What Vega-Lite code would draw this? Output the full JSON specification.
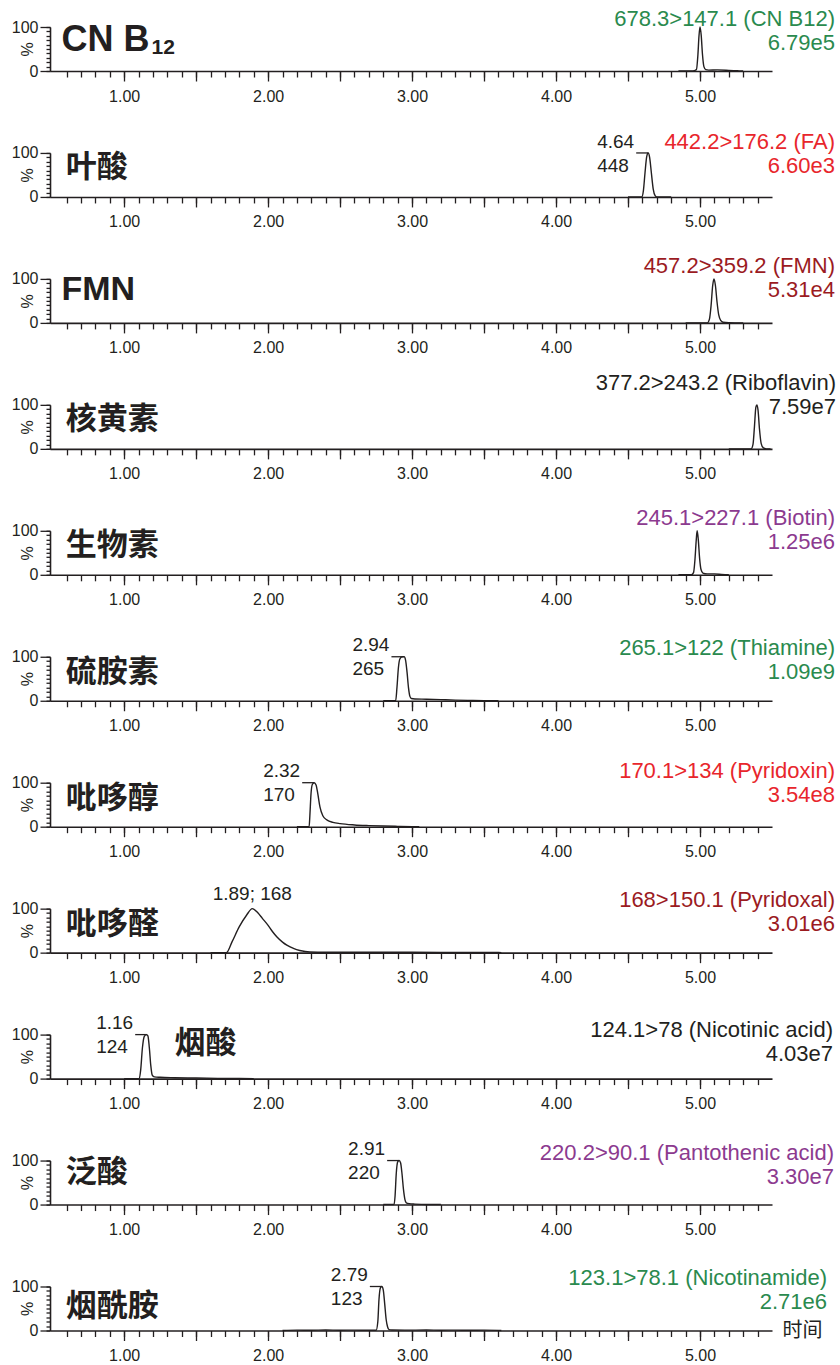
{
  "$schema": "https://vega.github.io/schema/vega-lite/v6.json",
  "background": "white",
  "padding": {"left": 11, "top": 8, "right": 2, "bottom": 4},
  "bounds": "flush",
  "spacing": 81.95,
  "config": {
    "view": {"stroke": null},
    "axis": {
      "domainColor": "#231f20", "domainWidth": 1.6,
      "tickColor": "#231f20", "tickWidth": 1.3,
      "labelFont": "Liberation Sans", "labelFontSize": 16, "labelColor": "#231f20",
      "titleFont": "Liberation Sans", "titleFontWeight": "normal", "titleColor": "#231f20",
      "grid": false
    },
    "text": {"font": "Liberation Sans", "color": "#231f20"}
  },
  "datasets": {
    "trace": [
      {"p":1,"t":4.85,"i":0},{"p":1,"t":4.95,"i":0},{"p":1,"t":4.975,"i":3},{"p":1,"t":4.985,"i":35},{"p":1,"t":4.993,"i":80},{"p":1,"t":5.0,"i":100},{"p":1,"t":5.008,"i":82},{"p":1,"t":5.017,"i":38},{"p":1,"t":5.027,"i":10},{"p":1,"t":5.04,"i":3},{"p":1,"t":5.06,"i":2},{"p":1,"t":5.12,"i":2.5},{"p":1,"t":5.2,"i":1.5},{"p":1,"t":5.26,"i":0.5},{"p":1,"t":5.3,"i":0},
      {"p":2,"t":4.5,"i":0},{"p":2,"t":4.595,"i":0},{"p":2,"t":4.607,"i":15},{"p":2,"t":4.618,"i":55},{"p":2,"t":4.63,"i":92},{"p":2,"t":4.64,"i":100},{"p":2,"t":4.65,"i":90},{"p":2,"t":4.662,"i":55},{"p":2,"t":4.675,"i":18},{"p":2,"t":4.688,"i":3},{"p":2,"t":4.7,"i":0},{"p":2,"t":4.8,"i":0},
      {"p":3,"t":4.9,"i":0},{"p":3,"t":5.05,"i":0},{"p":3,"t":5.065,"i":8},{"p":3,"t":5.077,"i":40},{"p":3,"t":5.088,"i":85},{"p":3,"t":5.097,"i":100},{"p":3,"t":5.107,"i":85},{"p":3,"t":5.118,"i":48},{"p":3,"t":5.13,"i":18},{"p":3,"t":5.145,"i":5},{"p":3,"t":5.16,"i":1.5},{"p":3,"t":5.2,"i":0.5},{"p":3,"t":5.3,"i":0},
      {"p":4,"t":5.2,"i":0},{"p":4,"t":5.355,"i":0},{"p":4,"t":5.368,"i":10},{"p":4,"t":5.378,"i":50},{"p":4,"t":5.388,"i":95},{"p":4,"t":5.395,"i":100},{"p":4,"t":5.403,"i":88},{"p":4,"t":5.413,"i":45},{"p":4,"t":5.425,"i":12},{"p":4,"t":5.44,"i":2},{"p":4,"t":5.46,"i":0},{"p":4,"t":5.49,"i":0},
      {"p":5,"t":4.85,"i":0},{"p":5,"t":4.94,"i":0},{"p":5,"t":4.955,"i":5},{"p":5,"t":4.965,"i":35},{"p":5,"t":4.974,"i":80},{"p":5,"t":4.98,"i":100},{"p":5,"t":4.988,"i":80},{"p":5,"t":4.997,"i":38},{"p":5,"t":5.007,"i":12},{"p":5,"t":5.02,"i":4},{"p":5,"t":5.05,"i":2},{"p":5,"t":5.1,"i":2},{"p":5,"t":5.15,"i":1},{"p":5,"t":5.2,"i":0},
      {"p":6,"t":2.8,"i":0},{"p":6,"t":2.886,"i":0},{"p":6,"t":2.895,"i":30},{"p":6,"t":2.905,"i":75},{"p":6,"t":2.915,"i":95},{"p":6,"t":2.93,"i":100},{"p":6,"t":2.945,"i":100},{"p":6,"t":2.955,"i":92},{"p":6,"t":2.965,"i":65},{"p":6,"t":2.975,"i":30},{"p":6,"t":2.985,"i":10},{"p":6,"t":2.995,"i":5},{"p":6,"t":3.02,"i":4},{"p":6,"t":3.1,"i":3.5},{"p":6,"t":3.2,"i":2.5},{"p":6,"t":3.3,"i":1.5},{"p":6,"t":3.4,"i":0.8},{"p":6,"t":3.5,"i":0.2},{"p":6,"t":3.6,"i":0},
      {"p":7,"t":2.2,"i":0},{"p":7,"t":2.285,"i":0},{"p":7,"t":2.29,"i":25},{"p":7,"t":2.298,"i":75},{"p":7,"t":2.307,"i":96},{"p":7,"t":2.32,"i":100},{"p":7,"t":2.333,"i":95},{"p":7,"t":2.345,"i":75},{"p":7,"t":2.36,"i":45},{"p":7,"t":2.38,"i":25},{"p":7,"t":2.41,"i":15},{"p":7,"t":2.45,"i":10},{"p":7,"t":2.5,"i":7},{"p":7,"t":2.6,"i":4},{"p":7,"t":2.7,"i":2.5},{"p":7,"t":2.8,"i":1.5},{"p":7,"t":2.9,"i":0.8},{"p":7,"t":3.0,"i":0.2},{"p":7,"t":3.05,"i":0},
      {"p":8,"t":1.6,"i":0},{"p":8,"t":1.71,"i":0},{"p":8,"t":1.75,"i":25},{"p":8,"t":1.8,"i":59},{"p":8,"t":1.85,"i":85},{"p":8,"t":1.89,"i":100},{"p":8,"t":1.93,"i":90},{"p":8,"t":1.96,"i":78},{"p":8,"t":2.0,"i":62},{"p":8,"t":2.03,"i":48},{"p":8,"t":2.06,"i":36},{"p":8,"t":2.1,"i":24},{"p":8,"t":2.13,"i":17},{"p":8,"t":2.18,"i":9},{"p":8,"t":2.22,"i":5},{"p":8,"t":2.29,"i":1.5},{"p":8,"t":2.4,"i":1},{"p":8,"t":2.6,"i":1},{"p":8,"t":2.8,"i":0.8},{"p":8,"t":3.0,"i":0.8},{"p":8,"t":3.2,"i":0.6},{"p":8,"t":3.4,"i":0.5},{"p":8,"t":3.6,"i":0.3},{"p":8,"t":3.62,"i":0},
      {"p":9,"t":1.0,"i":0},{"p":9,"t":1.105,"i":0},{"p":9,"t":1.115,"i":20},{"p":9,"t":1.127,"i":70},{"p":9,"t":1.14,"i":96},{"p":9,"t":1.155,"i":100},{"p":9,"t":1.165,"i":97},{"p":9,"t":1.175,"i":70},{"p":9,"t":1.185,"i":30},{"p":9,"t":1.195,"i":8},{"p":9,"t":1.21,"i":4},{"p":9,"t":1.25,"i":3},{"p":9,"t":1.35,"i":2},{"p":9,"t":1.5,"i":1.2},{"p":9,"t":1.65,"i":0.5},{"p":9,"t":1.8,"i":0.2},{"p":9,"t":1.9,"i":0},
      {"p":10,"t":2.8,"i":0},{"p":10,"t":2.875,"i":0},{"p":10,"t":2.882,"i":20},{"p":10,"t":2.89,"i":70},{"p":10,"t":2.9,"i":97},{"p":10,"t":2.91,"i":100},{"p":10,"t":2.92,"i":95},{"p":10,"t":2.93,"i":70},{"p":10,"t":2.94,"i":35},{"p":10,"t":2.95,"i":12},{"p":10,"t":2.96,"i":4},{"p":10,"t":2.98,"i":2},{"p":10,"t":3.02,"i":1},{"p":10,"t":3.1,"i":0},{"p":10,"t":3.2,"i":0},
      {"p":11,"t":2.1,"i":0},{"p":11,"t":2.2,"i":0.8},{"p":11,"t":2.3,"i":0.5},{"p":11,"t":2.4,"i":1},{"p":11,"t":2.5,"i":0.6},{"p":11,"t":2.6,"i":0.9},{"p":11,"t":2.7,"i":0.5},{"p":11,"t":2.75,"i":0.5},{"p":11,"t":2.762,"i":20},{"p":11,"t":2.77,"i":70},{"p":11,"t":2.78,"i":97},{"p":11,"t":2.79,"i":100},{"p":11,"t":2.8,"i":92},{"p":11,"t":2.81,"i":60},{"p":11,"t":2.82,"i":25},{"p":11,"t":2.83,"i":8},{"p":11,"t":2.84,"i":2},{"p":11,"t":2.86,"i":1},{"p":11,"t":2.95,"i":0.8},{"p":11,"t":3.1,"i":1},{"p":11,"t":3.2,"i":0.6},{"p":11,"t":3.3,"i":0.9},{"p":11,"t":3.4,"i":0.5},{"p":11,"t":3.5,"i":0.8},{"p":11,"t":3.6,"i":0.3},{"p":11,"t":3.62,"i":0}
    ],
    "info": [
      {"p":1,"name":"CN B","sub":"12","ann":"678.3>147.1 (CN B12)\n6.79e5"},
      {"p":2,"name":"叶酸","ann":"442.2>176.2 (FA)\n6.60e3","rt":4.64,"lab":"4.64\n448"},
      {"p":3,"name":"FMN","ann":"457.2>359.2 (FMN)\n5.31e4"},
      {"p":4,"name":"核黄素","ann":"377.2>243.2 (Riboflavin)\n7.59e7"},
      {"p":5,"name":"生物素","ann":"245.1>227.1 (Biotin)\n1.25e6"},
      {"p":6,"name":"硫胺素","ann":"265.1>122 (Thiamine)\n1.09e9","rt":2.94,"lab":"2.94\n265"},
      {"p":7,"name":"吡哆醇","ann":"170.1>134 (Pyridoxin)\n3.54e8","rt":2.32,"lab":"2.32\n170"},
      {"p":8,"name":"吡哆醛","ann":"168>150.1 (Pyridoxal)\n3.01e6","rt":1.89,"lab":"1.89; 168"},
      {"p":9,"name":"烟酸","ann":"124.1>78 (Nicotinic acid)\n4.03e7","rt":1.16,"lab":"1.16\n124"},
      {"p":10,"name":"泛酸","ann":"220.2>90.1 (Pantothenic acid)\n3.30e7","rt":2.91,"lab":"2.91\n220"},
      {"p":11,"name":"烟酰胺","ann":"123.1>78.1 (Nicotinamide)\n2.71e6","rt":2.79,"lab":"2.79\n123"}
    ]
  },
  "vconcat": [
    {
      "width": 722, "height": 44,
      "resolve": {"axis": {"x": "independent", "y": "independent"}},
      "layer": [
        {"data": {"name": "trace"}, "transform": [{"filter": "datum.p === 1"}],
         "mark": {"type": "line", "color": "#231f20", "strokeWidth": 1.4, "interpolate": "monotone"},
         "encoding": {
           "x": {"field": "t", "type": "quantitative", "scale": {"domain": [0.485, 5.5], "zero": false},
                 "axis": {"orient": "bottom", "values": [0.6,0.7,0.8,0.9,1,1.1,1.2,1.3,1.4,1.5,1.6,1.7,1.8,1.9,2,2.1,2.2,2.3,2.4,2.5,2.6,2.7,2.8,2.9,3,3.1,3.2,3.3,3.4,3.5,3.6,3.7,3.8,3.9,4,4.1,4.2,4.3,4.4,4.5,4.6,4.7,4.8,4.9,5,5.1,5.2,5.3,5.4], "labels": false, "tickSize": 6, "title": null}},
           "y": {"field": "i", "type": "quantitative", "scale": {"domain": [0, 100], "zero": false},
                 "axis": {"orient": "left", "values": [0,10,20,30,40,50,60,70,80,90,100], "labels": false, "tickSize": 4,
                          "title": "%", "titleX": -23, "titleY": 22, "titleAngle": 270, "titleAlign": "center", "titleBaseline": "middle", "titleFontSize": 16}}
         }},
        {"data": {"name": "info"}, "transform": [{"filter": "datum.p === 1"}],
         "mark": {"type": "text", "align": "right", "baseline": "middle", "lineBreak": "\n", "lineHeight": 24, "fontSize": 22, "dx": 63, "color": "#2a8a4e"},
         "encoding": {
           "x": {"datum": 5.5, "type": "quantitative", "scale": {"domain": [0.485, 5.5], "zero": false},
                 "axis": {"orient": "bottom", "values": [1,1.5,2,2.5,3,3.5,4,4.5,5], "domain": false, "tickSize": 10, "labelExpr": "datum.value % 1 === 0 ? format(datum.value, '.2f') : ''", "labelPadding": 7, "labelOverlap": false, "labelFlush": false, "title": null}},
           "y": {"datum": 118, "type": "quantitative", "scale": {"domain": [0, 100], "zero": false},
                 "axis": {"orient": "left", "values": [0,100], "domain": false, "tickSize": 10, "labelPadding": 2, "labelOverlap": false, "labelFlush": false, "title": null}},
           "text": {"field": "ann", "type": "nominal"}}},
        {"data": {"name": "info"}, "transform": [{"filter": "datum.p === 1"}],
         "mark": {"type": "text", "align": "left", "baseline": "alphabetic", "fontSize": 36, "fontWeight": "bold", "font": "Liberation Sans"},
         "encoding": {"x": {"datum": 0.565, "type": "quantitative", "scale": {"domain": [0.485, 5.5], "zero": false}, "axis": null}, "y": {"datum": 46, "type": "quantitative", "axis": null}, "text": {"field": "name", "type": "nominal"}}},
        {"data": {"name": "info"}, "transform": [{"filter": "datum.p === 1"}],
         "mark": {"type": "text", "align": "left", "baseline": "alphabetic", "fontSize": 21, "fontWeight": "bold", "font": "Liberation Sans"},
         "encoding": {"x": {"datum": 1.19, "type": "quantitative", "scale": {"domain": [0.485, 5.5], "zero": false}, "axis": null}, "y": {"datum": 39, "type": "quantitative", "axis": null}, "text": {"field": "sub", "type": "nominal"}}}
      ]
    },
    {
      "width": 722, "height": 44,
      "resolve": {"axis": {"x": "independent", "y": "independent"}},
      "layer": [
        {"data": {"name": "trace"}, "transform": [{"filter": "datum.p === 2"}],
         "mark": {"type": "line", "color": "#231f20", "strokeWidth": 1.4, "interpolate": "monotone"},
         "encoding": {
           "x": {"field": "t", "type": "quantitative", "scale": {"domain": [0.485, 5.5], "zero": false},
                 "axis": {"orient": "bottom", "values": [0.6,0.7,0.8,0.9,1,1.1,1.2,1.3,1.4,1.5,1.6,1.7,1.8,1.9,2,2.1,2.2,2.3,2.4,2.5,2.6,2.7,2.8,2.9,3,3.1,3.2,3.3,3.4,3.5,3.6,3.7,3.8,3.9,4,4.1,4.2,4.3,4.4,4.5,4.6,4.7,4.8,4.9,5,5.1,5.2,5.3,5.4], "labels": false, "tickSize": 6, "title": null}},
           "y": {"field": "i", "type": "quantitative", "scale": {"domain": [0, 100], "zero": false},
                 "axis": {"orient": "left", "values": [0,10,20,30,40,50,60,70,80,90,100], "labels": false, "tickSize": 4,
                          "title": "%", "titleX": -23, "titleY": 22, "titleAngle": 270, "titleAlign": "center", "titleBaseline": "middle", "titleFontSize": 16}}
         }},
        {"data": {"name": "info"}, "transform": [{"filter": "datum.p === 2"}],
         "mark": {"type": "text", "align": "right", "baseline": "middle", "lineBreak": "\n", "lineHeight": 24, "fontSize": 22, "dx": 63, "color": "#e8262c"},
         "encoding": {
           "x": {"datum": 5.5, "type": "quantitative", "scale": {"domain": [0.485, 5.5], "zero": false},
                 "axis": {"orient": "bottom", "values": [1,1.5,2,2.5,3,3.5,4,4.5,5], "domain": false, "tickSize": 10, "labelExpr": "datum.value % 1 === 0 ? format(datum.value, '.2f') : ''", "labelPadding": 7, "labelOverlap": false, "labelFlush": false, "title": null}},
           "y": {"datum": 125, "type": "quantitative", "scale": {"domain": [0, 100], "zero": false},
                 "axis": {"orient": "left", "values": [0,100], "domain": false, "tickSize": 10, "labelPadding": 2, "labelOverlap": false, "labelFlush": false, "title": null}},
           "text": {"field": "ann", "type": "nominal"}}},
        {"data": {"name": "info"}, "transform": [{"filter": "datum.p === 2"}],
         "mark": {"type": "text", "align": "left", "baseline": "middle", "fontSize": 31, "fontWeight": "bold", "font": "Noto Sans CJK SC"},
         "encoding": {"x": {"datum": 0.595, "type": "quantitative", "scale": {"domain": [0.485, 5.5], "zero": false}, "axis": null}, "y": {"datum": 66, "type": "quantitative", "axis": null}, "text": {"field": "name", "type": "nominal"}}},
        {"data": {"name": "info"}, "transform": [{"filter": "datum.p === 2"}],
         "mark": {"type": "rule", "color": "#231f20", "strokeWidth": 1.3, "x2Offset": -12},
         "encoding": {"x": {"field": "rt", "type": "quantitative", "scale": {"domain": [0.485, 5.5], "zero": false}, "axis": null}, "x2": {"field": "rt"}, "y": {"datum": 100, "type": "quantitative", "axis": null}}},
        {"data": {"name": "info"}, "transform": [{"filter": "datum.p === 2"}],
         "mark": {"type": "text", "align": "left", "baseline": "middle", "lineBreak": "\n", "lineHeight": 24, "fontSize": 19, "dx": -51},
         "encoding": {"x": {"field": "rt", "type": "quantitative", "scale": {"domain": [0.485, 5.5], "zero": false}, "axis": null}, "y": {"datum": 126, "type": "quantitative", "axis": null}, "text": {"field": "lab", "type": "nominal"}}}
      ]
    },
    {
      "width": 722, "height": 44,
      "resolve": {"axis": {"x": "independent", "y": "independent"}},
      "layer": [
        {"data": {"name": "trace"}, "transform": [{"filter": "datum.p === 3"}],
         "mark": {"type": "line", "color": "#231f20", "strokeWidth": 1.4, "interpolate": "monotone"},
         "encoding": {
           "x": {"field": "t", "type": "quantitative", "scale": {"domain": [0.485, 5.5], "zero": false},
                 "axis": {"orient": "bottom", "values": [0.6,0.7,0.8,0.9,1,1.1,1.2,1.3,1.4,1.5,1.6,1.7,1.8,1.9,2,2.1,2.2,2.3,2.4,2.5,2.6,2.7,2.8,2.9,3,3.1,3.2,3.3,3.4,3.5,3.6,3.7,3.8,3.9,4,4.1,4.2,4.3,4.4,4.5,4.6,4.7,4.8,4.9,5,5.1,5.2,5.3,5.4], "labels": false, "tickSize": 6, "title": null}},
           "y": {"field": "i", "type": "quantitative", "scale": {"domain": [0, 100], "zero": false},
                 "axis": {"orient": "left", "values": [0,10,20,30,40,50,60,70,80,90,100], "labels": false, "tickSize": 4,
                          "title": "%", "titleX": -23, "titleY": 22, "titleAngle": 270, "titleAlign": "center", "titleBaseline": "middle", "titleFontSize": 16}}
         }},
        {"data": {"name": "info"}, "transform": [{"filter": "datum.p === 3"}],
         "mark": {"type": "text", "align": "right", "baseline": "middle", "lineBreak": "\n", "lineHeight": 24, "fontSize": 22, "dx": 63, "color": "#9b1b1f"},
         "encoding": {
           "x": {"datum": 5.5, "type": "quantitative", "scale": {"domain": [0.485, 5.5], "zero": false},
                 "axis": {"orient": "bottom", "values": [1,1.5,2,2.5,3,3.5,4,4.5,5], "domain": false, "tickSize": 10, "labelExpr": "datum.value % 1 === 0 ? format(datum.value, '.2f') : ''", "labelPadding": 7, "labelOverlap": false, "labelFlush": false, "title": null}},
           "y": {"datum": 130, "type": "quantitative", "scale": {"domain": [0, 100], "zero": false},
                 "axis": {"orient": "left", "values": [0,100], "domain": false, "tickSize": 10, "labelPadding": 2, "labelOverlap": false, "labelFlush": false, "title": null}},
           "text": {"field": "ann", "type": "nominal"}}},
        {"data": {"name": "info"}, "transform": [{"filter": "datum.p === 3"}],
         "mark": {"type": "text", "align": "left", "baseline": "middle", "fontSize": 34, "fontWeight": "bold", "font": "Liberation Sans"},
         "encoding": {"x": {"datum": 0.565, "type": "quantitative", "scale": {"domain": [0.485, 5.5], "zero": false}, "axis": null}, "y": {"datum": 75, "type": "quantitative", "axis": null}, "text": {"field": "name", "type": "nominal"}}}
      ]
    },
    {
      "width": 722, "height": 44,
      "resolve": {"axis": {"x": "independent", "y": "independent"}},
      "layer": [
        {"data": {"name": "trace"}, "transform": [{"filter": "datum.p === 4"}],
         "mark": {"type": "line", "color": "#231f20", "strokeWidth": 1.4, "interpolate": "monotone"},
         "encoding": {
           "x": {"field": "t", "type": "quantitative", "scale": {"domain": [0.485, 5.5], "zero": false},
                 "axis": {"orient": "bottom", "values": [0.6,0.7,0.8,0.9,1,1.1,1.2,1.3,1.4,1.5,1.6,1.7,1.8,1.9,2,2.1,2.2,2.3,2.4,2.5,2.6,2.7,2.8,2.9,3,3.1,3.2,3.3,3.4,3.5,3.6,3.7,3.8,3.9,4,4.1,4.2,4.3,4.4,4.5,4.6,4.7,4.8,4.9,5,5.1,5.2,5.3,5.4], "labels": false, "tickSize": 6, "title": null}},
           "y": {"field": "i", "type": "quantitative", "scale": {"domain": [0, 100], "zero": false},
                 "axis": {"orient": "left", "values": [0,10,20,30,40,50,60,70,80,90,100], "labels": false, "tickSize": 4,
                          "title": "%", "titleX": -23, "titleY": 22, "titleAngle": 270, "titleAlign": "center", "titleBaseline": "middle", "titleFontSize": 16}}
         }},
        {"data": {"name": "info"}, "transform": [{"filter": "datum.p === 4"}],
         "mark": {"type": "text", "align": "right", "baseline": "middle", "lineBreak": "\n", "lineHeight": 24, "fontSize": 22, "dx": 64, "color": "#231f20"},
         "encoding": {
           "x": {"datum": 5.5, "type": "quantitative", "scale": {"domain": [0.485, 5.5], "zero": false},
                 "axis": {"orient": "bottom", "values": [1,1.5,2,2.5,3,3.5,4,4.5,5], "domain": false, "tickSize": 10, "labelExpr": "datum.value % 1 === 0 ? format(datum.value, '.2f') : ''", "labelPadding": 7, "labelOverlap": false, "labelFlush": false, "title": null}},
           "y": {"datum": 150, "type": "quantitative", "scale": {"domain": [0, 100], "zero": false},
                 "axis": {"orient": "left", "values": [0,100], "domain": false, "tickSize": 10, "labelPadding": 2, "labelOverlap": false, "labelFlush": false, "title": null}},
           "text": {"field": "ann", "type": "nominal"}}},
        {"data": {"name": "info"}, "transform": [{"filter": "datum.p === 4"}],
         "mark": {"type": "text", "align": "left", "baseline": "middle", "fontSize": 31, "fontWeight": "bold", "font": "Noto Sans CJK SC"},
         "encoding": {"x": {"datum": 0.595, "type": "quantitative", "scale": {"domain": [0.485, 5.5], "zero": false}, "axis": null}, "y": {"datum": 65, "type": "quantitative", "axis": null}, "text": {"field": "name", "type": "nominal"}}}
      ]
    },
    {
      "width": 722, "height": 44,
      "resolve": {"axis": {"x": "independent", "y": "independent"}},
      "layer": [
        {"data": {"name": "trace"}, "transform": [{"filter": "datum.p === 5"}],
         "mark": {"type": "line", "color": "#231f20", "strokeWidth": 1.4, "interpolate": "monotone"},
         "encoding": {
           "x": {"field": "t", "type": "quantitative", "scale": {"domain": [0.485, 5.5], "zero": false},
                 "axis": {"orient": "bottom", "values": [0.6,0.7,0.8,0.9,1,1.1,1.2,1.3,1.4,1.5,1.6,1.7,1.8,1.9,2,2.1,2.2,2.3,2.4,2.5,2.6,2.7,2.8,2.9,3,3.1,3.2,3.3,3.4,3.5,3.6,3.7,3.8,3.9,4,4.1,4.2,4.3,4.4,4.5,4.6,4.7,4.8,4.9,5,5.1,5.2,5.3,5.4], "labels": false, "tickSize": 6, "title": null}},
           "y": {"field": "i", "type": "quantitative", "scale": {"domain": [0, 100], "zero": false},
                 "axis": {"orient": "left", "values": [0,10,20,30,40,50,60,70,80,90,100], "labels": false, "tickSize": 4,
                          "title": "%", "titleX": -23, "titleY": 22, "titleAngle": 270, "titleAlign": "center", "titleBaseline": "middle", "titleFontSize": 16}}
         }},
        {"data": {"name": "info"}, "transform": [{"filter": "datum.p === 5"}],
         "mark": {"type": "text", "align": "right", "baseline": "middle", "lineBreak": "\n", "lineHeight": 24, "fontSize": 22, "dx": 63, "color": "#8c3a8f"},
         "encoding": {
           "x": {"datum": 5.5, "type": "quantitative", "scale": {"domain": [0.485, 5.5], "zero": false},
                 "axis": {"orient": "bottom", "values": [1,1.5,2,2.5,3,3.5,4,4.5,5], "domain": false, "tickSize": 10, "labelExpr": "datum.value % 1 === 0 ? format(datum.value, '.2f') : ''", "labelPadding": 7, "labelOverlap": false, "labelFlush": false, "title": null}},
           "y": {"datum": 130, "type": "quantitative", "scale": {"domain": [0, 100], "zero": false},
                 "axis": {"orient": "left", "values": [0,100], "domain": false, "tickSize": 10, "labelPadding": 2, "labelOverlap": false, "labelFlush": false, "title": null}},
           "text": {"field": "ann", "type": "nominal"}}},
        {"data": {"name": "info"}, "transform": [{"filter": "datum.p === 5"}],
         "mark": {"type": "text", "align": "left", "baseline": "middle", "fontSize": 31, "fontWeight": "bold", "font": "Noto Sans CJK SC"},
         "encoding": {"x": {"datum": 0.595, "type": "quantitative", "scale": {"domain": [0.485, 5.5], "zero": false}, "axis": null}, "y": {"datum": 66, "type": "quantitative", "axis": null}, "text": {"field": "name", "type": "nominal"}}}
      ]
    },
    {
      "width": 722, "height": 44,
      "resolve": {"axis": {"x": "independent", "y": "independent"}},
      "layer": [
        {"data": {"name": "trace"}, "transform": [{"filter": "datum.p === 6"}],
         "mark": {"type": "line", "color": "#231f20", "strokeWidth": 1.4, "interpolate": "monotone"},
         "encoding": {
           "x": {"field": "t", "type": "quantitative", "scale": {"domain": [0.485, 5.5], "zero": false},
                 "axis": {"orient": "bottom", "values": [0.6,0.7,0.8,0.9,1,1.1,1.2,1.3,1.4,1.5,1.6,1.7,1.8,1.9,2,2.1,2.2,2.3,2.4,2.5,2.6,2.7,2.8,2.9,3,3.1,3.2,3.3,3.4,3.5,3.6,3.7,3.8,3.9,4,4.1,4.2,4.3,4.4,4.5,4.6,4.7,4.8,4.9,5,5.1,5.2,5.3,5.4], "labels": false, "tickSize": 6, "title": null}},
           "y": {"field": "i", "type": "quantitative", "scale": {"domain": [0, 100], "zero": false},
                 "axis": {"orient": "left", "values": [0,10,20,30,40,50,60,70,80,90,100], "labels": false, "tickSize": 4,
                          "title": "%", "titleX": -23, "titleY": 22, "titleAngle": 270, "titleAlign": "center", "titleBaseline": "middle", "titleFontSize": 16}}
         }},
        {"data": {"name": "info"}, "transform": [{"filter": "datum.p === 6"}],
         "mark": {"type": "text", "align": "right", "baseline": "middle", "lineBreak": "\n", "lineHeight": 24, "fontSize": 22, "dx": 63, "color": "#2a8a4e"},
         "encoding": {
           "x": {"datum": 5.5, "type": "quantitative", "scale": {"domain": [0.485, 5.5], "zero": false},
                 "axis": {"orient": "bottom", "values": [1,1.5,2,2.5,3,3.5,4,4.5,5], "domain": false, "tickSize": 10, "labelExpr": "datum.value % 1 === 0 ? format(datum.value, '.2f') : ''", "labelPadding": 7, "labelOverlap": false, "labelFlush": false, "title": null}},
           "y": {"datum": 120, "type": "quantitative", "scale": {"domain": [0, 100], "zero": false},
                 "axis": {"orient": "left", "values": [0,100], "domain": false, "tickSize": 10, "labelPadding": 2, "labelOverlap": false, "labelFlush": false, "title": null}},
           "text": {"field": "ann", "type": "nominal"}}},
        {"data": {"name": "info"}, "transform": [{"filter": "datum.p === 6"}],
         "mark": {"type": "text", "align": "left", "baseline": "middle", "fontSize": 31, "fontWeight": "bold", "font": "Noto Sans CJK SC"},
         "encoding": {"x": {"datum": 0.595, "type": "quantitative", "scale": {"domain": [0.485, 5.5], "zero": false}, "axis": null}, "y": {"datum": 62, "type": "quantitative", "axis": null}, "text": {"field": "name", "type": "nominal"}}},
        {"data": {"name": "info"}, "transform": [{"filter": "datum.p === 6"}],
         "mark": {"type": "rule", "color": "#231f20", "strokeWidth": 1.3, "x2Offset": -12},
         "encoding": {"x": {"field": "rt", "type": "quantitative", "scale": {"domain": [0.485, 5.5], "zero": false}, "axis": null}, "x2": {"field": "rt"}, "y": {"datum": 100, "type": "quantitative", "axis": null}}},
        {"data": {"name": "info"}, "transform": [{"filter": "datum.p === 6"}],
         "mark": {"type": "text", "align": "left", "baseline": "middle", "lineBreak": "\n", "lineHeight": 24, "fontSize": 19, "dx": -51},
         "encoding": {"x": {"field": "rt", "type": "quantitative", "scale": {"domain": [0.485, 5.5], "zero": false}, "axis": null}, "y": {"datum": 126, "type": "quantitative", "axis": null}, "text": {"field": "lab", "type": "nominal"}}}
      ]
    },
    {
      "width": 722, "height": 44,
      "resolve": {"axis": {"x": "independent", "y": "independent"}},
      "layer": [
        {"data": {"name": "trace"}, "transform": [{"filter": "datum.p === 7"}],
         "mark": {"type": "line", "color": "#231f20", "strokeWidth": 1.4, "interpolate": "monotone"},
         "encoding": {
           "x": {"field": "t", "type": "quantitative", "scale": {"domain": [0.485, 5.5], "zero": false},
                 "axis": {"orient": "bottom", "values": [0.6,0.7,0.8,0.9,1,1.1,1.2,1.3,1.4,1.5,1.6,1.7,1.8,1.9,2,2.1,2.2,2.3,2.4,2.5,2.6,2.7,2.8,2.9,3,3.1,3.2,3.3,3.4,3.5,3.6,3.7,3.8,3.9,4,4.1,4.2,4.3,4.4,4.5,4.6,4.7,4.8,4.9,5,5.1,5.2,5.3,5.4], "labels": false, "tickSize": 6, "title": null}},
           "y": {"field": "i", "type": "quantitative", "scale": {"domain": [0, 100], "zero": false},
                 "axis": {"orient": "left", "values": [0,10,20,30,40,50,60,70,80,90,100], "labels": false, "tickSize": 4,
                          "title": "%", "titleX": -23, "titleY": 22, "titleAngle": 270, "titleAlign": "center", "titleBaseline": "middle", "titleFontSize": 16}}
         }},
        {"data": {"name": "info"}, "transform": [{"filter": "datum.p === 7"}],
         "mark": {"type": "text", "align": "right", "baseline": "middle", "lineBreak": "\n", "lineHeight": 24, "fontSize": 22, "dx": 63, "color": "#e8262c"},
         "encoding": {
           "x": {"datum": 5.5, "type": "quantitative", "scale": {"domain": [0.485, 5.5], "zero": false},
                 "axis": {"orient": "bottom", "values": [1,1.5,2,2.5,3,3.5,4,4.5,5], "domain": false, "tickSize": 10, "labelExpr": "datum.value % 1 === 0 ? format(datum.value, '.2f') : ''", "labelPadding": 7, "labelOverlap": false, "labelFlush": false, "title": null}},
           "y": {"datum": 127, "type": "quantitative", "scale": {"domain": [0, 100], "zero": false},
                 "axis": {"orient": "left", "values": [0,100], "domain": false, "tickSize": 10, "labelPadding": 2, "labelOverlap": false, "labelFlush": false, "title": null}},
           "text": {"field": "ann", "type": "nominal"}}},
        {"data": {"name": "info"}, "transform": [{"filter": "datum.p === 7"}],
         "mark": {"type": "text", "align": "left", "baseline": "middle", "fontSize": 31, "fontWeight": "bold", "font": "Noto Sans CJK SC"},
         "encoding": {"x": {"datum": 0.595, "type": "quantitative", "scale": {"domain": [0.485, 5.5], "zero": false}, "axis": null}, "y": {"datum": 64, "type": "quantitative", "axis": null}, "text": {"field": "name", "type": "nominal"}}},
        {"data": {"name": "info"}, "transform": [{"filter": "datum.p === 7"}],
         "mark": {"type": "rule", "color": "#231f20", "strokeWidth": 1.3, "x2Offset": -12},
         "encoding": {"x": {"field": "rt", "type": "quantitative", "scale": {"domain": [0.485, 5.5], "zero": false}, "axis": null}, "x2": {"field": "rt"}, "y": {"datum": 100, "type": "quantitative", "axis": null}}},
        {"data": {"name": "info"}, "transform": [{"filter": "datum.p === 7"}],
         "mark": {"type": "text", "align": "left", "baseline": "middle", "lineBreak": "\n", "lineHeight": 24, "fontSize": 19, "dx": -51},
         "encoding": {"x": {"field": "rt", "type": "quantitative", "scale": {"domain": [0.485, 5.5], "zero": false}, "axis": null}, "y": {"datum": 126, "type": "quantitative", "axis": null}, "text": {"field": "lab", "type": "nominal"}}}
      ]
    },
    {
      "width": 722, "height": 44,
      "resolve": {"axis": {"x": "independent", "y": "independent"}},
      "layer": [
        {"data": {"name": "trace"}, "transform": [{"filter": "datum.p === 8"}],
         "mark": {"type": "line", "color": "#231f20", "strokeWidth": 1.4, "interpolate": "monotone"},
         "encoding": {
           "x": {"field": "t", "type": "quantitative", "scale": {"domain": [0.485, 5.5], "zero": false},
                 "axis": {"orient": "bottom", "values": [0.6,0.7,0.8,0.9,1,1.1,1.2,1.3,1.4,1.5,1.6,1.7,1.8,1.9,2,2.1,2.2,2.3,2.4,2.5,2.6,2.7,2.8,2.9,3,3.1,3.2,3.3,3.4,3.5,3.6,3.7,3.8,3.9,4,4.1,4.2,4.3,4.4,4.5,4.6,4.7,4.8,4.9,5,5.1,5.2,5.3,5.4], "labels": false, "tickSize": 6, "title": null}},
           "y": {"field": "i", "type": "quantitative", "scale": {"domain": [0, 100], "zero": false},
                 "axis": {"orient": "left", "values": [0,10,20,30,40,50,60,70,80,90,100], "labels": false, "tickSize": 4,
                          "title": "%", "titleX": -23, "titleY": 22, "titleAngle": 270, "titleAlign": "center", "titleBaseline": "middle", "titleFontSize": 16}}
         }},
        {"data": {"name": "info"}, "transform": [{"filter": "datum.p === 8"}],
         "mark": {"type": "text", "align": "right", "baseline": "middle", "lineBreak": "\n", "lineHeight": 24, "fontSize": 22, "dx": 63, "color": "#9b1b1f"},
         "encoding": {
           "x": {"datum": 5.5, "type": "quantitative", "scale": {"domain": [0.485, 5.5], "zero": false},
                 "axis": {"orient": "bottom", "values": [1,1.5,2,2.5,3,3.5,4,4.5,5], "domain": false, "tickSize": 10, "labelExpr": "datum.value % 1 === 0 ? format(datum.value, '.2f') : ''", "labelPadding": 7, "labelOverlap": false, "labelFlush": false, "title": null}},
           "y": {"datum": 120, "type": "quantitative", "scale": {"domain": [0, 100], "zero": false},
                 "axis": {"orient": "left", "values": [0,100], "domain": false, "tickSize": 10, "labelPadding": 2, "labelOverlap": false, "labelFlush": false, "title": null}},
           "text": {"field": "ann", "type": "nominal"}}},
        {"data": {"name": "info"}, "transform": [{"filter": "datum.p === 8"}],
         "mark": {"type": "text", "align": "left", "baseline": "middle", "fontSize": 31, "fontWeight": "bold", "font": "Noto Sans CJK SC"},
         "encoding": {"x": {"datum": 0.595, "type": "quantitative", "scale": {"domain": [0.485, 5.5], "zero": false}, "axis": null}, "y": {"datum": 62, "type": "quantitative", "axis": null}, "text": {"field": "name", "type": "nominal"}}},
        {"data": {"name": "info"}, "transform": [{"filter": "datum.p === 8"}],
         "mark": {"type": "text", "align": "center", "baseline": "middle", "fontSize": 19},
         "encoding": {"x": {"field": "rt", "type": "quantitative", "scale": {"domain": [0.485, 5.5], "zero": false}, "axis": null}, "y": {"datum": 134, "type": "quantitative", "axis": null}, "text": {"field": "lab", "type": "nominal"}}}
      ]
    },
    {
      "width": 722, "height": 44,
      "resolve": {"axis": {"x": "independent", "y": "independent"}},
      "layer": [
        {"data": {"name": "trace"}, "transform": [{"filter": "datum.p === 9"}],
         "mark": {"type": "line", "color": "#231f20", "strokeWidth": 1.4, "interpolate": "monotone"},
         "encoding": {
           "x": {"field": "t", "type": "quantitative", "scale": {"domain": [0.485, 5.5], "zero": false},
                 "axis": {"orient": "bottom", "values": [0.6,0.7,0.8,0.9,1,1.1,1.2,1.3,1.4,1.5,1.6,1.7,1.8,1.9,2,2.1,2.2,2.3,2.4,2.5,2.6,2.7,2.8,2.9,3,3.1,3.2,3.3,3.4,3.5,3.6,3.7,3.8,3.9,4,4.1,4.2,4.3,4.4,4.5,4.6,4.7,4.8,4.9,5,5.1,5.2,5.3,5.4], "labels": false, "tickSize": 6, "title": null}},
           "y": {"field": "i", "type": "quantitative", "scale": {"domain": [0, 100], "zero": false},
                 "axis": {"orient": "left", "values": [0,10,20,30,40,50,60,70,80,90,100], "labels": false, "tickSize": 4,
                          "title": "%", "titleX": -23, "titleY": 22, "titleAngle": 270, "titleAlign": "center", "titleBaseline": "middle", "titleFontSize": 16}}
         }},
        {"data": {"name": "info"}, "transform": [{"filter": "datum.p === 9"}],
         "mark": {"type": "text", "align": "right", "baseline": "middle", "lineBreak": "\n", "lineHeight": 24, "fontSize": 22, "dx": 61, "color": "#231f20"},
         "encoding": {
           "x": {"datum": 5.5, "type": "quantitative", "scale": {"domain": [0.485, 5.5], "zero": false},
                 "axis": {"orient": "bottom", "values": [1,1.5,2,2.5,3,3.5,4,4.5,5], "domain": false, "tickSize": 10, "labelExpr": "datum.value % 1 === 0 ? format(datum.value, '.2f') : ''", "labelPadding": 7, "labelOverlap": false, "labelFlush": false, "title": null}},
           "y": {"datum": 111, "type": "quantitative", "scale": {"domain": [0, 100], "zero": false},
                 "axis": {"orient": "left", "values": [0,100], "domain": false, "tickSize": 10, "labelPadding": 2, "labelOverlap": false, "labelFlush": false, "title": null}},
           "text": {"field": "ann", "type": "nominal"}}},
        {"data": {"name": "info"}, "transform": [{"filter": "datum.p === 9"}],
         "mark": {"type": "text", "align": "left", "baseline": "middle", "fontSize": 31, "fontWeight": "bold", "font": "Noto Sans CJK SC"},
         "encoding": {"x": {"datum": 1.35, "type": "quantitative", "scale": {"domain": [0.485, 5.5], "zero": false}, "axis": null}, "y": {"datum": 78, "type": "quantitative", "axis": null}, "text": {"field": "name", "type": "nominal"}}},
        {"data": {"name": "info"}, "transform": [{"filter": "datum.p === 9"}],
         "mark": {"type": "rule", "color": "#231f20", "strokeWidth": 1.3, "x2Offset": -12},
         "encoding": {"x": {"field": "rt", "type": "quantitative", "scale": {"domain": [0.485, 5.5], "zero": false}, "axis": null}, "x2": {"field": "rt"}, "y": {"datum": 100, "type": "quantitative", "axis": null}}},
        {"data": {"name": "info"}, "transform": [{"filter": "datum.p === 9"}],
         "mark": {"type": "text", "align": "left", "baseline": "middle", "lineBreak": "\n", "lineHeight": 24, "fontSize": 19, "dx": -51},
         "encoding": {"x": {"field": "rt", "type": "quantitative", "scale": {"domain": [0.485, 5.5], "zero": false}, "axis": null}, "y": {"datum": 126, "type": "quantitative", "axis": null}, "text": {"field": "lab", "type": "nominal"}}}
      ]
    },
    {
      "width": 722, "height": 44,
      "resolve": {"axis": {"x": "independent", "y": "independent"}},
      "layer": [
        {"data": {"name": "trace"}, "transform": [{"filter": "datum.p === 10"}],
         "mark": {"type": "line", "color": "#231f20", "strokeWidth": 1.4, "interpolate": "monotone"},
         "encoding": {
           "x": {"field": "t", "type": "quantitative", "scale": {"domain": [0.485, 5.5], "zero": false},
                 "axis": {"orient": "bottom", "values": [0.6,0.7,0.8,0.9,1,1.1,1.2,1.3,1.4,1.5,1.6,1.7,1.8,1.9,2,2.1,2.2,2.3,2.4,2.5,2.6,2.7,2.8,2.9,3,3.1,3.2,3.3,3.4,3.5,3.6,3.7,3.8,3.9,4,4.1,4.2,4.3,4.4,4.5,4.6,4.7,4.8,4.9,5,5.1,5.2,5.3,5.4], "labels": false, "tickSize": 6, "title": null}},
           "y": {"field": "i", "type": "quantitative", "scale": {"domain": [0, 100], "zero": false},
                 "axis": {"orient": "left", "values": [0,10,20,30,40,50,60,70,80,90,100], "labels": false, "tickSize": 4,
                          "title": "%", "titleX": -23, "titleY": 22, "titleAngle": 270, "titleAlign": "center", "titleBaseline": "middle", "titleFontSize": 16}}
         }},
        {"data": {"name": "info"}, "transform": [{"filter": "datum.p === 10"}],
         "mark": {"type": "text", "align": "right", "baseline": "middle", "lineBreak": "\n", "lineHeight": 24, "fontSize": 22, "dx": 62, "color": "#8c3a8f"},
         "encoding": {
           "x": {"datum": 5.5, "type": "quantitative", "scale": {"domain": [0.485, 5.5], "zero": false},
                 "axis": {"orient": "bottom", "values": [1,1.5,2,2.5,3,3.5,4,4.5,5], "domain": false, "tickSize": 10, "labelExpr": "datum.value % 1 === 0 ? format(datum.value, '.2f') : ''", "labelPadding": 7, "labelOverlap": false, "labelFlush": false, "title": null}},
           "y": {"datum": 118, "type": "quantitative", "scale": {"domain": [0, 100], "zero": false},
                 "axis": {"orient": "left", "values": [0,100], "domain": false, "tickSize": 10, "labelPadding": 2, "labelOverlap": false, "labelFlush": false, "title": null}},
           "text": {"field": "ann", "type": "nominal"}}},
        {"data": {"name": "info"}, "transform": [{"filter": "datum.p === 10"}],
         "mark": {"type": "text", "align": "left", "baseline": "middle", "fontSize": 31, "fontWeight": "bold", "font": "Noto Sans CJK SC"},
         "encoding": {"x": {"datum": 0.595, "type": "quantitative", "scale": {"domain": [0.485, 5.5], "zero": false}, "axis": null}, "y": {"datum": 71, "type": "quantitative", "axis": null}, "text": {"field": "name", "type": "nominal"}}},
        {"data": {"name": "info"}, "transform": [{"filter": "datum.p === 10"}],
         "mark": {"type": "rule", "color": "#231f20", "strokeWidth": 1.3, "x2Offset": -12},
         "encoding": {"x": {"field": "rt", "type": "quantitative", "scale": {"domain": [0.485, 5.5], "zero": false}, "axis": null}, "x2": {"field": "rt"}, "y": {"datum": 100, "type": "quantitative", "axis": null}}},
        {"data": {"name": "info"}, "transform": [{"filter": "datum.p === 10"}],
         "mark": {"type": "text", "align": "left", "baseline": "middle", "lineBreak": "\n", "lineHeight": 24, "fontSize": 19, "dx": -51},
         "encoding": {"x": {"field": "rt", "type": "quantitative", "scale": {"domain": [0.485, 5.5], "zero": false}, "axis": null}, "y": {"datum": 126, "type": "quantitative", "axis": null}, "text": {"field": "lab", "type": "nominal"}}}
      ]
    },
    {
      "width": 722, "height": 44,
      "resolve": {"axis": {"x": "independent", "y": "independent"}},
      "layer": [
        {"data": {"name": "trace"}, "transform": [{"filter": "datum.p === 11"}],
         "mark": {"type": "line", "color": "#231f20", "strokeWidth": 1.4, "interpolate": "monotone"},
         "encoding": {
           "x": {"field": "t", "type": "quantitative", "scale": {"domain": [0.485, 5.5], "zero": false},
                 "axis": {"orient": "bottom", "values": [0.6,0.7,0.8,0.9,1,1.1,1.2,1.3,1.4,1.5,1.6,1.7,1.8,1.9,2,2.1,2.2,2.3,2.4,2.5,2.6,2.7,2.8,2.9,3,3.1,3.2,3.3,3.4,3.5,3.6,3.7,3.8,3.9,4,4.1,4.2,4.3,4.4,4.5,4.6,4.7,4.8,4.9,5,5.1,5.2,5.3,5.4], "labels": false, "tickSize": 6,
                          "title": "时间", "titleX": 732, "titleY": 0, "titleAngle": 0, "titleAlign": "left", "titleBaseline": "middle",
                          "titleFont": "Noto Sans CJK SC", "titleFontSize": 20}},
           "y": {"field": "i", "type": "quantitative", "scale": {"domain": [0, 100], "zero": false},
                 "axis": {"orient": "left", "values": [0,10,20,30,40,50,60,70,80,90,100], "labels": false, "tickSize": 4,
                          "title": "%", "titleX": -23, "titleY": 22, "titleAngle": 270, "titleAlign": "center", "titleBaseline": "middle", "titleFontSize": 16}}
         }},
        {"data": {"name": "info"}, "transform": [{"filter": "datum.p === 11"}],
         "mark": {"type": "text", "align": "right", "baseline": "middle", "lineBreak": "\n", "lineHeight": 24, "fontSize": 22, "dx": 55, "color": "#2a8a4e"},
         "encoding": {
           "x": {"datum": 5.5, "type": "quantitative", "scale": {"domain": [0.485, 5.5], "zero": false},
                 "axis": {"orient": "bottom", "values": [1,1.5,2,2.5,3,3.5,4,4.5,5], "domain": false, "tickSize": 10, "labelExpr": "datum.value % 1 === 0 ? format(datum.value, '.2f') : ''", "labelPadding": 7, "labelOverlap": false, "labelFlush": false, "title": null}},
           "y": {"datum": 120, "type": "quantitative", "scale": {"domain": [0, 100], "zero": false},
                 "axis": {"orient": "left", "values": [0,100], "domain": false, "tickSize": 10, "labelPadding": 2, "labelOverlap": false, "labelFlush": false, "title": null}},
           "text": {"field": "ann", "type": "nominal"}}},
        {"data": {"name": "info"}, "transform": [{"filter": "datum.p === 11"}],
         "mark": {"type": "text", "align": "left", "baseline": "middle", "fontSize": 31, "fontWeight": "bold", "font": "Noto Sans CJK SC"},
         "encoding": {"x": {"datum": 0.595, "type": "quantitative", "scale": {"domain": [0.485, 5.5], "zero": false}, "axis": null}, "y": {"datum": 53, "type": "quantitative", "axis": null}, "text": {"field": "name", "type": "nominal"}}},
        {"data": {"name": "info"}, "transform": [{"filter": "datum.p === 11"}],
         "mark": {"type": "rule", "color": "#231f20", "strokeWidth": 1.3, "x2Offset": -12},
         "encoding": {"x": {"field": "rt", "type": "quantitative", "scale": {"domain": [0.485, 5.5], "zero": false}, "axis": null}, "x2": {"field": "rt"}, "y": {"datum": 100, "type": "quantitative", "axis": null}}},
        {"data": {"name": "info"}, "transform": [{"filter": "datum.p === 11"}],
         "mark": {"type": "text", "align": "left", "baseline": "middle", "lineBreak": "\n", "lineHeight": 24, "fontSize": 19, "dx": -51},
         "encoding": {"x": {"field": "rt", "type": "quantitative", "scale": {"domain": [0.485, 5.5], "zero": false}, "axis": null}, "y": {"datum": 126, "type": "quantitative", "axis": null}, "text": {"field": "lab", "type": "nominal"}}}
      ]
    }
  ]
}
